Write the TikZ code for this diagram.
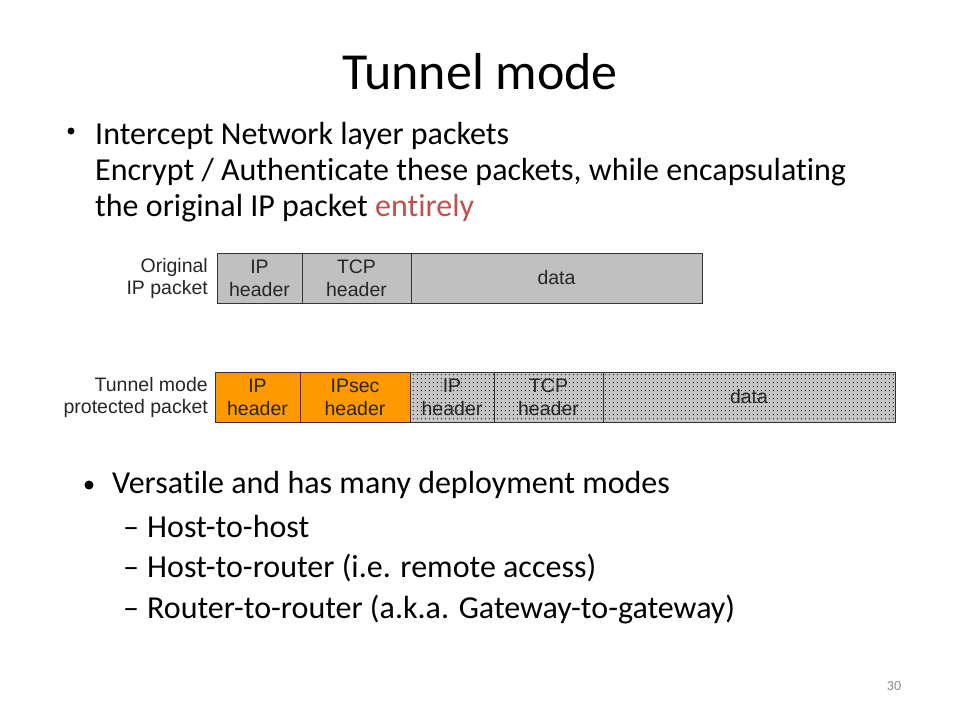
\documentclass[tikz,border=0pt]{standalone}
\usepackage{fontspec}
\setmainfont{Carlito}[Ligatures=NoCommon]
\newfontfamily\arialfont{Liberation Sans}
\usetikzlibrary{positioning}
\usetikzlibrary{patterns}

\definecolor{pktgray}{HTML}{C0C0C0}
\definecolor{pktorange}{HTML}{FF9900}
\definecolor{dotgray}{HTML}{C6C6C6}
\definecolor{accentred}{HTML}{C0504D}
\definecolor{pagegray}{HTML}{8C8C8C}

\pgfdeclarepatternformonly{pktdots}{\pgfqpoint{0pt}{0pt}}{\pgfqpoint{4pt}{4pt}}{\pgfqpoint{4pt}{4pt}}{%
  \pgfpathrectangle{\pgfqpoint{1pt}{1pt}}{\pgfqpoint{1.2pt}{1.2pt}}\pgfusepath{fill}}

\begin{document}
\begin{tikzpicture}[x=1pt,y=-1pt,
  txt/.style={anchor=base west,inner sep=0pt,font=\fontsize{32}{38}\selectfont},
  dot/.style={circle,fill=black,inner sep=0pt,minimum size=#1},
  field/.style={draw=black!80,line width=0.8pt,outer sep=0pt,inner sep=0pt,minimum height=50pt,
    align=center,font=\arialfont\fontsize{19.5}{23}\selectfont,text=black!85},
  origfield/.style={field,fill=pktgray},
  tunfield/.style={field,fill=pktorange},
  encfield/.style={field,preaction={fill=dotgray},pattern=pktdots,pattern color=black!85},
  rowlabel/.style={anchor=east,align=right,inner sep=0pt,font=\arialfont\fontsize{19.5}{22}\selectfont,text=black!85}]

\fill[white] (0,0) rectangle (960,720);
\useasboundingbox (0,0) rectangle (960,720);

\node (title) at (480,89) [anchor=base,inner sep=0pt,font=\fontsize{52}{60}\selectfont] {Tunnel mode};

\node (bulletA) at (71,131) [dot=7pt] {};
\node (lineA) at (95,144) [txt] {Intercept Network layer packets};
\node (lineB) at (95,180) [txt] {Encrypt / Authenticate these packets, while encapsulating};
\node (lineC) at (95,216) [txt] {the original IP packet \textcolor{accentred}{entirely}};

% original packet
\node (olabel) at (208,278) [rowlabel] {Original\\IP packet};
\node (oip) at (217,253) [origfield,anchor=north west,minimum width=85pt] {IP\\header};
\node (otcp) [origfield,minimum width=109pt,right=0pt of oip] {TCP\\header};
\node (odata) [origfield,minimum width=291pt,right=0pt of otcp] {data};

% tunnel mode packet
\node (tlabel) at (208,397) [rowlabel] {Tunnel mode\\protected packet};
\node (tip) at (215,372) [tunfield,anchor=north west,minimum width=85pt] {IP\\header};
\node (tsec) [tunfield,minimum width=110pt,right=0pt of tip] {IPsec\\header};
\node (tinip) [encfield,minimum width=84pt,right=0pt of tsec] {IP\\header};
\node (tintcp) [encfield,minimum width=109pt,right=0pt of tinip] {TCP\\header};
\node (tdata) [encfield,minimum width=292pt,right=0pt of tintcp] {data};

\node (bulletB) at (89,485) [dot=9pt] {};
\node (lineD) at (112,493) [txt] {Versatile and has many deployment modes};
\node (dashA) at (123,537) [txt] {–};
\node (modeA) at (147,537) [txt] {Host-to-host};
\node (dashB) at (123,577) [txt] {–};
\node (modeB) at (147,577) [txt] {Host-to-router (i.e. remote access)};
\node (dashC) at (123,618) [txt] {–};
\node (modeC) at (147,618) [txt] {Router-to-router (a.k.a. Gateway-to-gateway)};

\node (page) at (894,686) [font=\fontsize{14}{16}\selectfont,text=pagegray] {30};

\end{tikzpicture}
\end{document}
